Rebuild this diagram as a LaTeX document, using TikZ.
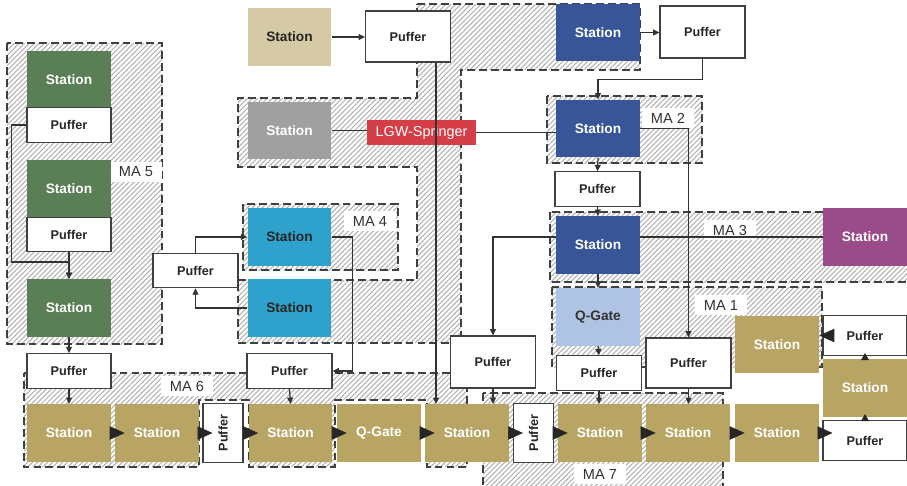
\documentclass[tikz,border=0pt]{standalone}
\usepackage{fontspec}
\setmainfont{Liberation Sans}
\usetikzlibrary{arrows.meta,patterns.meta,calc}

\definecolor{stgreen}{HTML}{5A7E56}
\definecolor{stbeige}{HTML}{D5C9A6}
\definecolor{stgrey}{HTML}{A0A0A0}
\definecolor{stcyan}{HTML}{2EA1CC}
\definecolor{stblue}{HTML}{385598}
\definecolor{stpurple}{HTML}{9A4C8A}
\definecolor{stgate}{HTML}{AFC3E4}
\definecolor{stgold}{HTML}{B8A463}
\definecolor{lgwred}{HTML}{D63E47}

\begin{document}
\begin{tikzpicture}[x=0.02cm, y=-0.02cm,
        station/.style={rectangle, inner sep=0pt, minimum width=1.68cm,
        minimum height=1.15cm, text=white, font=\fontsize{7.8}{9}\selectfont\bfseries},
        puffer/.style={rectangle, draw=black!75, line width=0.65pt, fill=white,
        inner sep=0pt, minimum width=1.7cm, minimum height=0.69cm, text=black!85,
        font=\fontsize{7.2}{8}\selectfont\bfseries},
        vpuffer/.style={puffer, minimum width=0.8cm, minimum height=1.18cm},
        lgw/.style={rectangle, fill=lgwred, inner sep=0pt, minimum width=2.18cm,
        minimum height=0.5cm, text=white, font=\fontsize{8.2}{9}\selectfont},
        malabel/.style={fill=white, inner xsep=5pt, inner ysep=3pt, text=black!80,
        font=\fontsize{8.3}{9}\selectfont},
        area/.style={draw=black!75, line width=0.9pt, dash pattern=on 4.5pt off 2.3pt,
        pattern={Lines[angle=45, distance=2pt, line width=0.6pt]}, pattern color=black!30},
        conn/.style={draw=black!80, line width=0.7pt, -{Triangle[length=3.6pt, width=3.4pt]}},
        link/.style={draw=black!80, line width=0.7pt},
        flow/.style={draw=black!85, line width=0.4pt, shorten >=-5.7pt,
        -{Triangle[length=8.5pt, width=7.6pt]}},
        bump/.style={draw=black!85, line width=0.4pt, shorten >=-1.7pt,
        -{Triangle[length=4pt, width=4.5pt]}}]

        \fill[white] (0,0) rectangle (907,485);
        \useasboundingbox (0,0) rectangle (907,485);

        % areas
        \draw[area] (7,43) rectangle (162,344);
        \draw[area] (417,4) -- (640,4) -- (640,70) -- (461,70) -- (461,343) -- (238,343)
            -- (238,280) -- (417,280) -- (417,167) -- (238,167) -- (238,98) -- (417,98) -- cycle;
        \draw[area] (243,204) rectangle (398,270);
        \draw[area] (547,96) rectangle (702,163);
        \draw[area] (550,212) rectangle (915,282);
        \draw[area] (552,287) rectangle (822,367);
        \draw[area] (24,373) -- (467,373) -- (467,467) -- (427,467) -- (427,400) -- (335,400)
            -- (335,467) -- (249,467) -- (249,400) -- (199,400) -- (199,467) -- (24,467) -- cycle;
        \draw[area] (483,393) rectangle (723,495);

        \node[malabel] (ma5) at (136,172) {MA 5};
        \node[malabel] (ma4) at (370,221) {MA 4};
        \node[malabel] (ma2) at (668,118) {MA 2};
        \node[malabel] (ma3) at (730,230) {MA 3};
        \node[malabel] (ma1) at (721,305) {MA 1};
        \node[malabel] (ma6) at (187,386) {MA 6};
        \node[malabel] (ma7) at (600,474) {MA 7};

        % top
        \node[station, fill=stbeige, text=black!85] (sbeige) at (289.5,37) {Station};
        \node[puffer, minimum height=1.02cm] (ptopl) at (408,36.5) {Puffer};
        \node[station, fill=stblue] (stop) at (598,32.5) {Station};
        \node[puffer, minimum height=1.04cm] (ptopr) at (702.5,32) {Puffer};
        \node[station, fill=stgrey] (sgrey) at (289.5,130.5) {Station};
        \node[lgw] (lgw) at (421.5,132.5) {LGW-Springer};
        \node[station, fill=stblue] (sma2) at (598,128.5) {Station};
        \node[puffer] (pma2) at (597.5,189) {Puffer};
        \node[station, fill=stblue] (sma3) at (598,245) {Station};
        \node[station, fill=stpurple] (spurple) at (865,237) {Station};
        \node[station, fill=stgate, text=black!80] (qtop) at (598,317) {Q-Gate};
        \node[puffer] (pq) at (599,373) {Puffer};
        \node[puffer, minimum height=1.04cm] (pbigl) at (493,362) {Puffer};
        \node[puffer, minimum height=1cm] (pbigr) at (688.5,363) {Puffer};
        \node[station, fill=stgold] (sma1) at (777,344.5) {Station};
        \node[puffer, minimum width=1.68cm, minimum height=0.8cm] (pr1) at (865,335.5) {Puffer};
        \node[station, fill=stgold] (sright) at (865,388) {Station};
        \node[puffer, minimum width=1.68cm, minimum height=0.8cm] (pr2) at (865,440.5) {Puffer};

        % MA 5
        \node[station, fill=stgreen] (g1) at (69,79.5) {Station};
        \node[puffer, minimum width=1.68cm] (pg1) at (69,125) {Puffer};
        \node[station, fill=stgreen] (g2) at (69,188.5) {Station};
        \node[puffer, minimum width=1.68cm] (pg2) at (69,234.5) {Puffer};
        \node[station, fill=stgreen] (g3) at (69,308) {Station};
        \node[puffer, minimum width=1.68cm] (pg3) at (69,371) {Puffer};

        % MA 4
        \node[station, fill=stcyan, text=black!85] (c1) at (289.5,237) {Station};
        \node[station, fill=stcyan, text=black!85] (c2) at (289.5,308) {Station};
        \node[puffer] (pmid) at (195.5,270.5) {Puffer};
        \node[puffer] (pma6) at (289.5,371) {Puffer};

        % line
        \node[station, fill=stgold] (r1) at (69,433) {Station};
        \node[station, fill=stgold] (r2) at (157,433) {Station};
        \node[vpuffer] (vp1) at (223,433) {\rotatebox{90}{Puffer}};
        \node[station, fill=stgold] (r3) at (290.5,433) {Station};
        \node[station, fill=stgold] (q2) at (379,433) {Q-Gate};
        \node[station, fill=stgold] (r4) at (467,433) {Station};
        \node[vpuffer] (vp2) at (533.5,433) {\rotatebox{90}{Puffer}};
        \node[station, fill=stgold] (r5) at (600,433) {Station};
        \node[station, fill=stgold] (r6) at (688,433) {Station};
        \node[station, fill=stgold] (r7) at (777,433) {Station};

        \draw[conn] (sbeige.east) -- (sbeige.east -| ptopl.west);
        \draw[conn] (stop.east) -- (stop.east -| ptopr.west);
        \draw[conn] (ptopr.south) -- ++(0,21) -| (sma2.north);
        \draw[link] (sgrey.east) -- (sgrey.east -| lgw.west);
        \draw[link] (lgw.east) -- (lgw.east -| sma2.west);
        \draw[conn] (sma2.south) -- (pma2.north);
        \draw[conn] (pma2.south) -- (sma3.north);
        \draw[conn] (sma3.south) -- (qtop.north);
        \draw[conn] (qtop.south) -- (pq.north);
        \draw[conn] (pq.south) -- (pq.south |- r5.north);
        \draw[conn] (sma2.east) -| (pbigr.north);
        \draw[conn] (pbigr.south) -- (pbigr.south |- r6.north);
        \draw[conn] (sma3.west |- spurple) -| (pbigl.north);
        \draw[conn] (pbigl.south) -- (pbigl.south |- r4.north);
        \draw[link] (sma3.east |- spurple) -- (spurple.west);
        \draw[conn] ($(ptopl.south)+(28,0)$) -- ($(r4.north)+(-31,0)$);

        \draw[conn] (pg1.west) -- ++(-15,0) |- ($(g3.north)+(0,-17)$) -- (g3.north);
        \draw[conn] (pg2.south) -- (g3.north);
        \draw[conn] (g3.south) -- (pg3.north);
        \draw[conn] (pg3.south) -- (r1.north);
        \draw[conn] (pmid.north) |- (c1.west);
        \draw[conn] (c2.west) -| (pmid.south);
        \draw[conn] (c1.east) -- ++(21,0) |- (pma6.east);
        \draw[conn] (pma6.south) -- (r3.north);

        \foreach \a/\b in {r1/r2, r2/vp1, vp1/r3, r3/q2, q2/r4, r4/vp2, vp2/r5, r5/r6, r6/r7, r7/pr2}
            \draw[flow] (\a.east) -- (\a.east -| \b.west);
        \draw[bump] (pr2.north) -- (sright.south);
        \draw[bump] (sright.north) -- (pr1.south);
        \draw[flow, shorten >=0pt] (pr1.west) -- (pr1.west -| sma1.east);
    \end{tikzpicture}
\end{document}
